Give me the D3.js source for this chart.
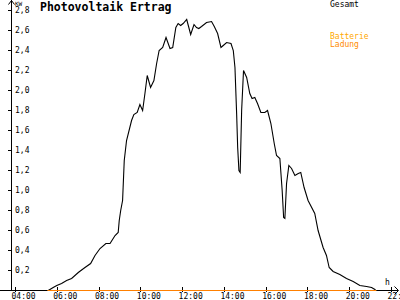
<!DOCTYPE html>
<html>
<head>
<meta charset="utf-8">
<script src="https://cdn.jsdelivr.net/npm/d3@7"></script>
<style>
  body { margin: 0; background: #fff; }
  svg { display: block; }
  text { font-family: "DejaVu Sans Mono", monospace; }
</style>
</head>
<body>
<svg id="chart" width="400" height="300"></svg>
<script>
// Zeit in Stunden, Leistung in kW
const times = [5.59, 5.83, 6.00, 6.23, 6.47, 6.71, 7.03, 7.35, 7.62, 7.83, 8.07, 8.35, 8.55, 8.79, 8.94,
    8.99, 9.06, 9.15, 9.23, 9.34, 9.58, 9.69, 9.85, 9.98, 10.11, 10.22, 10.33, 10.49, 10.65, 10.78,
    10.90, 11.07, 11.23, 11.42, 11.55, 11.70, 11.81, 11.93, 12.05, 12.22, 12.41, 12.57, 12.69, 12.80,
    12.93, 13.17, 13.41, 13.54, 13.70, 13.86, 13.97, 14.13, 14.34, 14.45, 14.53, 14.61, 14.66, 14.72,
    14.78, 14.85, 14.94, 15.09, 15.24, 15.35, 15.48, 15.61, 15.77, 15.96, 16.09, 16.25, 16.41, 16.52,
    16.68, 16.79, 16.86, 16.92, 17.00, 17.11, 17.24, 17.40, 17.56, 17.68, 17.84, 18.03, 18.35, 18.51,
    18.75, 18.91, 19.04, 19.23, 19.55, 19.87, 20.19, 20.51, 20.83, 21.07, 21.23, 21.27];
const gesamt = [0, 0.03, 0.05, 0.07, 0.10, 0.12, 0.18, 0.23, 0.27, 0.35, 0.42, 0.47, 0.47, 0.55, 0.58,
    0.70, 0.80, 0.90, 1.30, 1.50, 1.70, 1.76, 1.78, 1.86, 1.80, 1.97, 2.15, 2.03, 2.10, 2.27,
    2.40, 2.43, 2.53, 2.42, 2.43, 2.63, 2.67, 2.65, 2.67, 2.71, 2.56, 2.66, 2.63, 2.62,
    2.64, 2.68, 2.69, 2.64, 2.57, 2.43, 2.45, 2.48, 2.47, 2.40, 2.23, 1.77, 1.43, 1.20,
    1.18, 1.80, 2.20, 2.13, 1.97, 1.92, 1.93, 1.87, 1.78, 1.78, 1.80, 1.67, 1.47, 1.35,
    1.32, 1.00, 0.73, 0.72, 1.07, 1.25, 1.22, 1.15, 1.17, 1.18, 1.03, 0.90, 0.77, 0.60,
    0.43, 0.35, 0.23, 0.19, 0.16, 0.12, 0.09, 0.05, 0.04, 0.03, 0.01, 0];
const battTimes = [5.55, 21.3];
const battLadung = [0, 0];

const xTicks = [4, 6, 8, 10, 12, 14, 16, 18, 20, 22];
const xTickLabels = ["04:00", "06:00", "08:00", "10:00", "12:00", "14:00", "16:00", "18:00", "20:00", "22:"];
const yTicks = [0.2, 0.4, 0.6, 0.8, 1.0, 1.2, 1.4, 1.6, 1.8, 2.0, 2.2, 2.4, 2.6, 2.8];

const svg = d3.select("#chart");

const x = d3.scaleLinear().domain([4, 22]).range([15, 391]);
const y = d3.scaleLinear().domain([0, 2.8]).range([290, 10]);
const x0 = 11;

// Achsen
const xAxis = svg.append("g")
    .attr("transform", "translate(0,290)")
    .call(d3.axisBottom(x).tickValues(xTicks).tickSize(3)
        .tickFormat((d, i) => xTickLabels[i]));
xAxis.select(".domain").remove();
xAxis.selectAll(".tick line").attr("y1", -3).attr("y2", 2)
    .attr("stroke", "#000").attr("shape-rendering", "crispEdges");
xAxis.selectAll(".tick text")
    .attr("y", 9).attr("dy", 0).attr("x", -4)
    .attr("text-anchor", "start")
    .attr("font-size", 8).attr("fill", "#000")
    .style("font-family", "DejaVu Sans Mono, monospace");

const yAxis = svg.append("g")
    .attr("transform", "translate(" + x0 + ",0)")
    .call(d3.axisLeft(y).tickValues(yTicks).tickSize(3)
        .tickFormat(d => d.toFixed(1).replace(".", ",")));
yAxis.select(".domain").remove();
yAxis.selectAll(".tick line").attr("x1", -3).attr("x2", 1)
    .attr("stroke", "#000").attr("shape-rendering", "crispEdges");
yAxis.selectAll(".tick text")
    .attr("x", 4).attr("dy", "0.36em")
    .attr("text-anchor", "start")
    .attr("font-size", 8).attr("fill", "#000")
    .style("font-family", "DejaVu Sans Mono, monospace");

// Achsenlinien mit Pfeilen
svg.append("line")
    .attr("x1", x0 + 0.5).attr("x2", x0 + 0.5).attr("y1", 0).attr("y2", 291)
    .attr("stroke", "#000");
svg.append("path")
    .attr("d", `M${x0 - 2.5},4.5L${x0 + 0.5},0.5L${x0 + 3.5},4.5`)
    .attr("fill", "none").attr("stroke", "#000");
svg.append("line")
    .attr("x1", 0).attr("x2", 398).attr("y1", y(0) + 0.5).attr("y2", y(0) + 0.5)
    .attr("stroke", "#000");
svg.append("path")
    .attr("d", `M394.5,${y(0) - 3.5}L398.5,${y(0) + 0.5}L394.5,${y(0) + 4.5}`)
    .attr("fill", "none").attr("stroke", "#000");

svg.append("text").attr("x", 15).attr("y", 6)
    .attr("font-size", 6).text("KW");
svg.append("text").attr("x", 385).attr("y", 285)
    .attr("font-size", 8).text("h");

// Titel
svg.append("text").attr("x", 40).attr("y", 11)
    .attr("font-size", 11.5).attr("font-weight", "bold")
    .text("Photovoltaik Ertrag");

// Legende
svg.append("text").attr("x", 330).attr("y", 7)
    .attr("font-size", 8).attr("fill", "#000").text("Gesamt");
svg.append("text").attr("x", 330).attr("y", 38.5)
    .attr("font-size", 8).attr("fill", "#FFA800").text("Batterie");
svg.append("text").attr("x", 330).attr("y", 47)
    .attr("font-size", 8).attr("fill", "#FF8A00").text("Ladung");

// Linien
const line = d3.line()
    .x(d => x(d[0]))
    .y(d => y(d[1]) + 0.5);

svg.append("path")
    .datum(d3.zip(times, gesamt))
    .attr("d", line)
    .attr("fill", "none")
    .attr("stroke", "#000")
    .attr("stroke-width", 1.1);

svg.append("path")
    .datum(d3.zip(battTimes, battLadung))
    .attr("d", line)
    .attr("fill", "none")
    .attr("stroke", "#FF8000")
    .attr("stroke-width", 1.2);
</script>
</body>
</html>
